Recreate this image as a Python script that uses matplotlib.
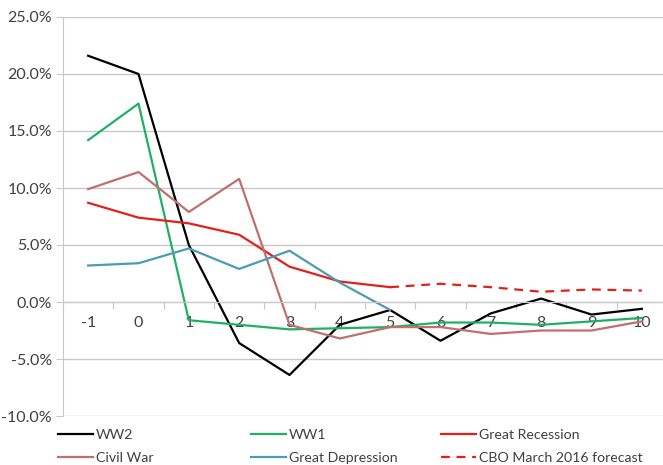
import numpy as np
import matplotlib
matplotlib.use("Agg")
import matplotlib.pyplot as plt
from matplotlib.ticker import FuncFormatter, FixedLocator

# Years relative to end of war / recession
years = [-1, 0, 1, 2, 3, 4, 5, 6, 7, 8, 9, 10]

# Values in percent
ww2 = [21.6, 20.0, 5.0, -3.6, -6.4, -2.0, -0.7, -3.4, -1.0, 0.3, -1.1, -0.6]
ww1 = [14.2, 17.4, -1.6, -2.0, -2.4, -2.3, -2.2, -1.8, -1.8, -2.0, -1.7, -1.4]
civil_war = [9.9, 11.4, 7.9, 10.8, -2.0, -3.2, -2.2, -2.2, -2.8, -2.5, -2.5, -1.7]
great_recession = [8.7, 7.4, 6.9, 5.9, 3.1, 1.8, 1.3]
great_depression = [3.2, 3.4, 4.7, 2.9, 4.5, 1.7, -0.7]
cbo_years = [5, 6, 7, 8, 9, 10]
cbo_forecast = [1.3, 1.6, 1.3, 0.9, 1.1, 1.0]

y_ticks = [-10, -5, 0, 5, 10, 15, 20, 25]

plt.rcParams["font.family"] = ["Lato", "DejaVu Sans"]
text_color = "#404040"
grid_color = "#c8c8c8"

fig = plt.figure(figsize=(6.63, 4.65), dpi=100)
ax = fig.add_axes([63 / 663, 49 / 465, 604 / 663, 399 / 465])

x = np.array(years)
l_ww2, = ax.plot(x, ww2, color="black", lw=1.6, label="WW2")
l_ww1, = ax.plot(x, ww1, color="#1fb066", lw=1.6, label="WW1")
l_gr, = ax.plot(x[:len(great_recession)], great_recession, color="#e3201b",
                lw=1.6, label="Great Recession")
l_cw, = ax.plot(x, civil_war, color="#c06f6d", lw=1.6, label="Civil War")
l_gd, = ax.plot(x[:len(great_depression)], great_depression, color="#4b9cb3",
                lw=1.6, label="Great Depression")
l_cbo, = ax.plot(cbo_years, cbo_forecast, color="#e3201b", lw=1.6,
                 ls=(0, (4, 3)), label="CBO March 2016 forecast")

ax.set_xlim(-1.5, 10.5)
ax.set_ylim(-10, 25)
ax.set_yticks(y_ticks)
ax.yaxis.set_major_formatter(FuncFormatter(lambda v, p: f"{v:.1f}%"))
ax.grid(axis="y", color=grid_color, lw=1)
ax.set_axisbelow(True)

# category axis crossing at zero, tick marks between categories
ax.spines["bottom"].set_position(("data", 0))
ax.spines["bottom"].set_color(grid_color)
ax.spines["left"].set_color(grid_color)
ax.spines["top"].set_visible(False)
ax.spines["right"].set_visible(False)
ax.xaxis.set_major_locator(FixedLocator(np.arange(-1.5, 11, 1)))
ax.xaxis.set_major_formatter(FuncFormatter(lambda v, p: ""))
ax.set_xticks(years, [str(v) for v in years], minor=True)
ax.tick_params(axis="x", which="major", length=5, color=grid_color,
               direction="out")
ax.tick_params(axis="x", which="minor", length=0, pad=10,
               labelsize=11.5, labelcolor=text_color)
ax.tick_params(axis="y", length=5, color=grid_color, labelsize=11.5,
               labelcolor=text_color, pad=3)

# legend: three columns of two entries
kw = dict(frameon=False, fontsize=10.2, labelcolor=text_color,
          handlelength=2.5, handletextpad=0.2, labelspacing=0.75,
          borderaxespad=0, borderpad=0)
fig.legend(handles=[l_ww2, l_cw], loc="lower left",
           bbox_to_anchor=(58 / 663, 1 / 465), **kw)
fig.legend(handles=[l_ww1, l_gd], loc="lower left",
           bbox_to_anchor=(251 / 663, 1 / 465), **kw)
fig.legend(handles=[l_gr, l_cbo], loc="lower left",
           bbox_to_anchor=(441 / 663, 1 / 465), **kw)

fig.savefig("out.png", dpi=100)
